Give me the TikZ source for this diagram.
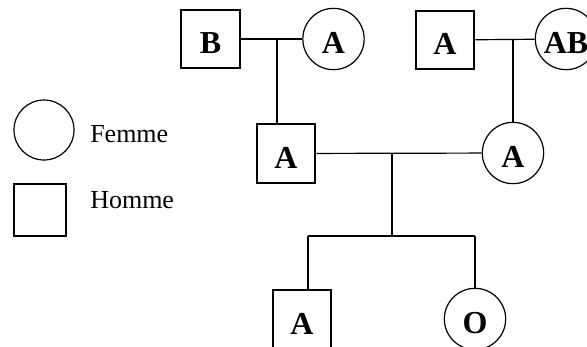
\documentclass[tikz,border=0pt]{standalone}
\usepackage{fontspec}
\setmainfont{Liberation Serif}
\usepackage{tikz}
\usetikzlibrary{positioning}

\tikzset{
  homme/.style={draw, line width=1.4pt, minimum size=44pt, inner sep=0pt,
    text height=22pt, text depth=0pt,
    font=\fontsize{24}{26}\selectfont\bfseries},
  femme/.style={draw, circle, line width=0.9pt, minimum size=46pt, inner sep=0pt,
    text height=22pt, text depth=0pt,
    font=\fontsize{24}{26}\selectfont\bfseries},
  lien/.style={line width=0.9pt},
  legende/.style={anchor=west, inner sep=0pt, font=\fontsize{19.5}{22}\selectfont}
}

\begin{document}
\begin{tikzpicture}[x=0.75pt, y=-0.75pt]
  \useasboundingbox (0,0) rectangle (587,347);
  \clip (0,0) rectangle (587,347);

  % legend
  \node[femme, minimum size=45pt] (lf) at (44,130) {};
  \node[legende] (tf) at (90,134) {Femme};
  \node[homme, minimum size=39pt] (lh) at (40,210) {};
  \node[legende] (th) at (90,200) {Homme};

  % grandparents, left couple
  \node[homme] (gp1) at (210.5,39) {B};
  \node[femme] (gm1) at (333.5,39) {A};
  % grandparents, right couple
  \node[homme] (gp2) at (445,40) {A};
  \node[femme] (gm2) at (566,39) {AB};

  % parents
  \node[homme] (pere) at (286,153.5) {A};
  \node[femme] (mere) at (513,153) {A};

  % children
  \node[homme] (fils) at (302,319.5) {A};
  \node[femme] (fille) at (475,319) {O};

  % unions and descent
  \draw[lien] (gp1) -- (gm1);
  \coordinate (u1) at (277,40);
  \draw[lien] (u1) -- (u1 |- pere.north);

  \draw[lien] (gp2) -- (gm2);
  \draw[lien] (mere.north) -- (mere.north |- gp2.east);

  \draw[lien] (pere) -- (mere);
  \coordinate (u3) at (392,153);
  \coordinate (fratrie) at (392,236);
  \coordinate (bg) at (308,236);
  \coordinate (bd) at (fratrie -| fille.north);
  \draw[lien] (u3) -- (fratrie);
  \draw[lien] (bg) -- (bd);
  \draw[lien] (bg) -- (bg |- fils.north);
  \draw[lien] (bd) -- (fille.north);
\end{tikzpicture}
\end{document}
